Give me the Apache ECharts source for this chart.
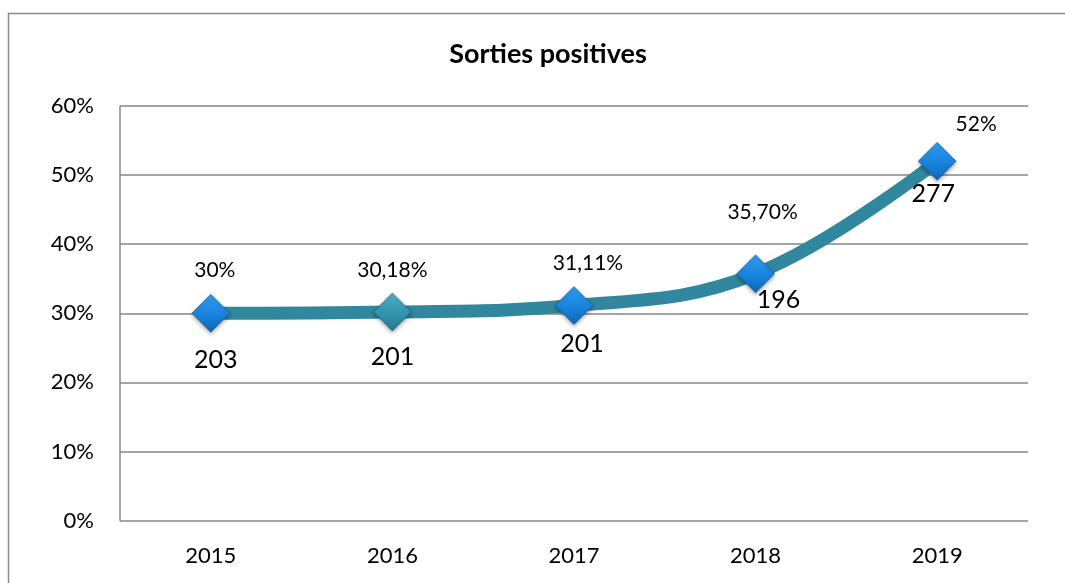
<!DOCTYPE html>
<html>
<head>
<meta charset="utf-8">
<script src="https://cdn.jsdelivr.net/npm/echarts@6/dist/echarts.min.js"></script>
<style>
html,body{margin:0;padding:0;background:#fff;}
#c{width:1065px;height:583px;}
</style>
</head>
<body>
<div id="c"></div>
<script>
const title = 'Sorties positives';
const years = ['2015', '2016', '2017', '2018', '2019'];
const rates = [30, 30.18, 31.11, 35.70, 52];
const rateLabels = ['30%', '30,18%', '31,11%', '35,70%', '52%'];
const counts = [203, 201, 201, 196, 277];
const yTicks = [0, 10, 20, 30, 40, 50, 60];

// label offsets (styling, in px)
const rateOffsets = [[4, -43], [0, -42], [14, -42], [7, -62], [39, -37]];
const countOffsets = [[5, 47], [0, 45], [8, 38], [23, 26], [-4, 33]];

const font = 'Lato, "Open Sans", sans-serif';
const chart = echarts.init(document.getElementById('c'));

const diamondBlue = new echarts.graphic.LinearGradient(0, 0, 0, 1, [
  {offset: 0, color: '#2f9cf0'}, {offset: 0.5, color: '#1a86e0'}, {offset: 1, color: '#0b66b8'}
]);
const diamondTeal = new echarts.graphic.LinearGradient(0, 0, 0, 1, [
  {offset: 0, color: '#4fb0c8'}, {offset: 0.5, color: '#3596b0'}, {offset: 1, color: '#237a92'}
]);

chart.setOption({
  animation: false,
  graphic: [{
    type: 'rect',
    shape: {x: 8.5, y: 13.5, width: 1100, height: 620},
    style: {fill: 'none', stroke: '#8a8a8a', lineWidth: 1.5},
    z: -1
  }],
  title: {
    text: title,
    left: 543, top: 36, textAlign: 'center',
    textStyle: {fontFamily: font, fontSize: 27, fontWeight: 'bold', color: '#000'}
  },
  grid: {left: 120, right: 37, top: 106, bottom: 62.5},
  xAxis: {
    type: 'category',
    data: years,
    boundaryGap: true,
    axisLine: {show: false},
    axisTick: {show: false},
    axisLabel: {fontFamily: font, fontSize: 22, color: '#000', margin: 24}
  },
  yAxis: {
    type: 'value',
    min: yTicks[0], max: yTicks[yTicks.length - 1], interval: 10,
    axisLine: {show: true, lineStyle: {color: '#868686', width: 1.5}},
    axisTick: {show: false},
    splitLine: {lineStyle: {color: '#868686', width: 1.5}},
    axisLabel: {fontFamily: font, fontSize: 22, color: '#000', margin: 26, formatter: v => v + '%'}
  },
  series: [{
    type: 'line',
    data: rates.map((v, i) => ({
      value: v,
      label: {offset: rateOffsets[i]}
    })),
    smooth: 0.4,
    symbol: 'diamond',
    symbolSize: [38, 38],
    lineStyle: {color: '#31879e', width: 13, cap: 'round'},
    itemStyle: {
      color: p => (p.dataIndex === 1 ? diamondTeal : diamondBlue),
      borderColor: 'rgba(20,80,120,0.5)',
      borderWidth: 1,
      shadowColor: 'rgba(0,0,0,0.35)', shadowBlur: 4, shadowOffsetY: 2
    },
    label: {
      show: true, position: 'inside',
      formatter: p => rateLabels[p.dataIndex],
      fontFamily: font, fontSize: 21, color: '#000'
    },
    z: 3
  }, {
    type: 'line',
    data: rates.map((v, i) => ({
      value: v,
      label: {offset: countOffsets[i]}
    })),
    symbol: 'circle', symbolSize: 1,
    itemStyle: {color: 'rgba(0,0,0,0)', borderWidth: 0},
    lineStyle: {color: 'rgba(0,0,0,0)', width: 0},
    label: {
      show: true, position: 'inside',
      formatter: p => String(counts[p.dataIndex]),
      fontFamily: font, fontSize: 25, color: '#000'
    },
    silent: true,
    z: 4
  }]
});
</script>
</body>
</html>
